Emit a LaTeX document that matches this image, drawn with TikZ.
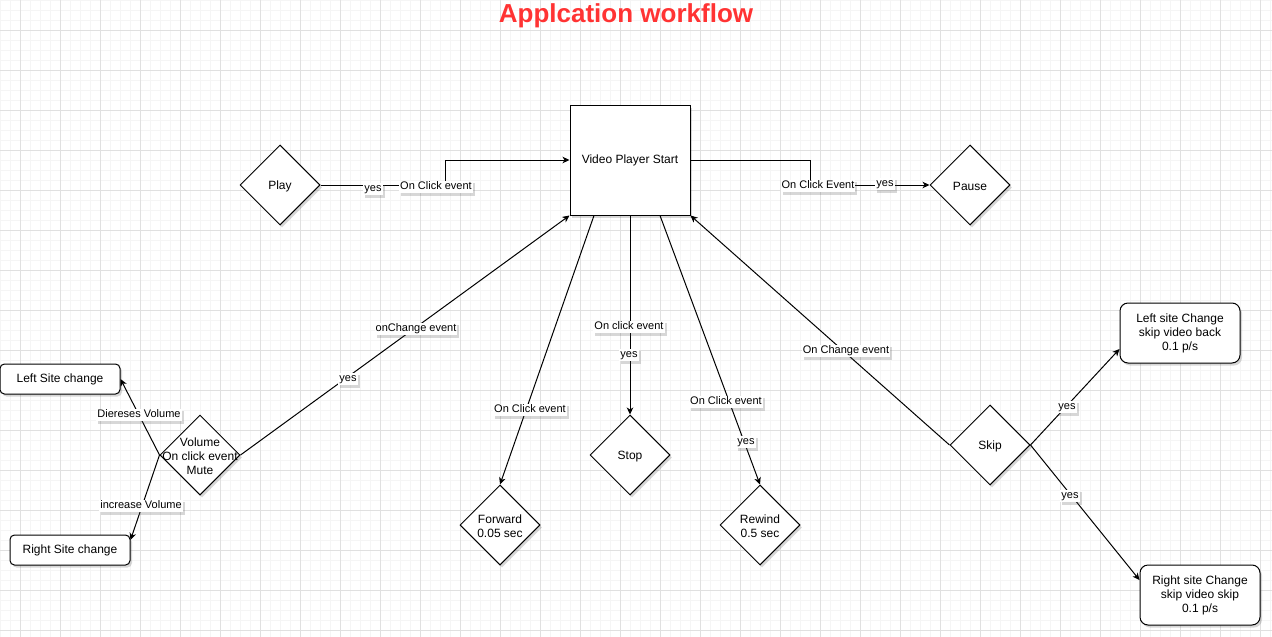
\documentclass[tikz,border=0pt]{standalone}
\usepackage{fontspec}
\setmainfont{Liberation Sans}
\usetikzlibrary{shapes.geometric,arrows.meta,shadows}
\definecolor{gridminor}{HTML}{F5F5F5}
\definecolor{gridmajor}{HTML}{E0E0E0}
\definecolor{titlered}{HTML}{FF3333}
\begin{document}
\begin{tikzpicture}[x=1pt,y=-1pt,
  shad/.style={drop shadow={shadow xshift=2pt,shadow yshift=-2.5pt,opacity=0.22,fill=black!70}},
  txt/.style={font=\fontsize{12}{14}\selectfont, align=center, text=black, yshift=-1.2pt},
  dia/.style={diamond, draw, line width=1pt, fill=white, minimum width=80pt, minimum height=80pt, inner sep=0pt, aspect=1, shad},
  box/.style={rectangle, draw, fill=white, line width=1pt, minimum width=120pt, minimum height=30pt, rounded corners=4.5pt, inner sep=0pt, shad, font=\fontsize{12}{14}\selectfont, align=center},
  bigbox/.style={box, minimum height=60pt, rounded corners=8pt},
  lbl/.style={fill=white, inner sep=1pt, text height=8pt, text depth=2.5pt, font=\fontsize{11}{13}\selectfont, shad},
  conn/.style={line width=1pt, -{Stealth[length=7pt,width=6.5pt,inset=2pt]}}]
\useasboundingbox (0,0) rectangle (1272,637);
\fill[white] (0,0) rectangle (1272,637);
% grid
\foreach \x in {0,10,...,1270} \draw[gridminor, line width=1pt] (\x,0) -- (\x,637);
\foreach \y in {0,10,...,630} \draw[gridminor, line width=1pt] (0,\y) -- (1272,\y);
\foreach \x in {20,60,...,1260} \draw[gridmajor, line width=1pt] (\x,0) -- (\x,637);
\foreach \y in {30,70,...,630} \draw[gridmajor, line width=1pt] (0,\y) -- (1272,\y);

% title
\node[font=\bfseries\fontsize{26}{30}\selectfont, text=titlered] (title) at (626,16) {Applcation workflow};

% nodes
\node[draw, fill=white, line width=1pt, minimum width=120pt, minimum height=110pt, inner sep=0pt, shad, font=\fontsize{12}{14}\selectfont] (vps) at (630,160) {Video Player Start};
\node[dia, label={[txt]center:Play}] (play) at (280,185) {};
\node[dia, label={[txt]center:Pause}] (pause) at (970,185) {};
\node[dia, label={[txt]center:{Volume\\On click event\\Mute}}] (vol) at (200,455) {};
\node[dia, label={[txt]center:{Forward\\0.05 sec}}] (fwd) at (500,525) {};
\node[dia, label={[txt]center:Stop}] (stop) at (630,455) {};
\node[dia, label={[txt]center:{Rewind\\0.5 sec}}] (rew) at (760,525) {};
\node[dia, label={[txt]center:Skip}] (skip) at (990,445) {};
\node[box] (lsc) at (60,379) {Left Site change};
\node[box] (rsc) at (70,550) {Right Site change};
\node[bigbox] (lsk) at (1180,333) {Left site Change\\skip video back\\0.1 p/s};
\node[bigbox] (rsk) at (1200,595) {Right site Change\\skip video skip\\0.1 p/s};

% connectors
\draw[conn] (play.east) -- ++(125,0) |- (vps.west);
\draw[conn] (vps.east) -- ++(120,0) |- (pause.west);
\draw[conn] (vol.east) -- (vps.south west);
\draw[conn] (vol.west) -- (lsc.east);
\draw[conn] (vol.west) -- ([yshift=10pt]rsc.east);
\draw[conn] ([xshift=-36pt]vps.south) -- (fwd.north);
\draw[conn] (vps.south) -- (stop.north);
\draw[conn] ([xshift=30pt]vps.south) -- (rew.north);
\draw[conn] (skip.west) -- (vps.south east);
\draw[conn] (skip.east) -- ([yshift=-16pt]lsk.west);
\draw[conn] (skip.east) -- ([yshift=15pt]rsk.west);

% labels
\node[lbl] (l1) at (373,189) {yes};
\node[lbl] (l2) at (436,187) {On Click event};
\node[lbl] (l3) at (818,186) {On Click Event};
\node[lbl] (l4) at (885,184) {yes};
\node[lbl] (l5) at (416,329) {onChange event};
\node[lbl] (l6) at (348,379) {yes};
\node[lbl] (l7) at (139,415) {Diereses Volume};
\node[lbl] (l8) at (141,506) {increase Volume};
\node[lbl] (l9) at (530,410) {On Click event};
\node[lbl] (l10) at (629,327) {On click event};
\node[lbl] (l11) at (629,355) {yes};
\node[lbl] (l12) at (726,402) {On Click event};
\node[lbl] (l13) at (746,442) {yes};
\node[lbl] (l14) at (846,351) {On Change event};
\node[lbl] (l15) at (1067,407) {yes};
\node[lbl] (l16) at (1070,496) {yes};
\end{tikzpicture}
\end{document}
